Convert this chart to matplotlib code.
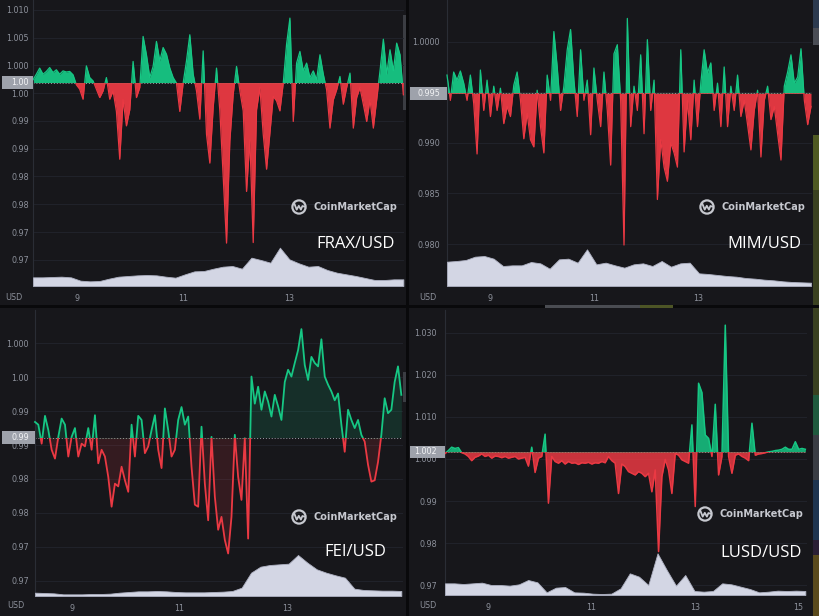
import numpy as np
import matplotlib
matplotlib.use("Agg")
import matplotlib.pyplot as plt
from matplotlib.patches import Rectangle, Circle
from matplotlib.lines import Line2D
import matplotlib.transforms as mtransforms

# ---------------- data ----------------
frax_price = [
    0.9974, 0.9984, 0.9995, 0.9984, 0.9989, 0.9996, 0.9987, 0.9992, 0.9984, 0.9990,
    0.9988, 0.9989, 0.9983, 0.9965, 0.9957, 0.9939, 0.9999, 0.9978, 0.9972, 0.9957,
    0.9942, 0.9954, 0.9978, 0.9939, 0.9954, 0.9917, 0.9831, 0.9938, 0.9891, 0.9920,
    1.0007, 0.9942, 0.9960, 1.0052, 1.0019, 0.9978, 0.9998, 1.0043, 1.0008, 1.0032,
    1.0020, 0.9995, 0.9978, 0.9968, 0.9917, 0.9968, 1.0008, 1.0055, 0.9984, 0.9954,
    0.9903, 1.0026, 0.9876, 0.9824, 0.9924, 0.9995, 0.9918, 0.9800, 0.9680, 0.9864,
    0.9948, 0.9998, 0.9954, 0.9918, 0.9773, 0.9866, 0.9681, 0.9920, 0.9960, 0.9876,
    0.9813, 0.9878, 0.9944, 0.9936, 0.9918, 0.9968, 1.0038, 1.0085, 0.9899, 1.0004,
    1.0025, 0.9990, 1.0004, 0.9978, 0.9990, 0.9974, 1.0019, 0.9984, 0.9956, 0.9887,
    0.9938, 0.9956, 0.9980, 0.9930, 0.9960, 0.9986, 0.9887, 0.9942, 0.9960, 0.9930,
    0.9899, 0.9938, 0.9887, 0.9938, 0.9990, 1.0047, 0.9984, 1.0028, 0.9990, 1.0040,
    1.0019, 0.9947]
mim_price = [
    0.9967, 0.9942, 0.9970, 0.9962, 0.9971, 0.9959, 0.9942, 0.9967, 0.9939, 0.9889,
    0.9972, 0.9932, 0.9962, 0.9926, 0.9956, 0.9932, 0.9954, 0.9919, 0.9936, 0.9926,
    0.9957, 0.9970, 0.9942, 0.9904, 0.9929, 0.9903, 0.9896, 0.9952, 0.9916, 0.9890,
    0.9967, 0.9942, 1.0010, 0.9975, 0.9932, 0.9956, 0.9992, 1.0012, 0.9962, 0.9926,
    0.9992, 0.9942, 0.9962, 0.9908, 0.9974, 0.9942, 0.9916, 0.9970, 0.9932, 0.9878,
    0.9988, 0.9997, 0.9942, 0.9799, 1.0023, 0.9916, 0.9956, 0.9932, 0.9987, 0.9909,
    1.0002, 0.9932, 0.9962, 0.9844, 0.9903, 0.9876, 0.9862, 0.9900, 0.9890, 0.9876,
    0.9992, 0.9891, 0.9942, 0.9903, 0.9962, 0.9916, 0.9959, 0.9992, 0.9969, 0.9979,
    0.9932, 0.9959, 0.9916, 0.9975, 0.9916, 0.9956, 0.9932, 0.9967, 0.9926, 0.9942,
    0.9918, 0.9893, 0.9932, 0.9952, 0.9886, 0.9942, 0.9956, 0.9923, 0.9936, 0.9909,
    0.9883, 0.9956, 0.9970, 0.9987, 0.9959, 0.9965, 0.9993, 0.9942, 0.9918, 0.9936]
fei_price = [
    0.9884, 0.9880, 0.9852, 0.9893, 0.9872, 0.9843, 0.9830, 0.9862, 0.9889, 0.9880,
    0.9833, 0.9862, 0.9875, 0.9833, 0.9852, 0.9848, 0.9875, 0.9843, 0.9894, 0.9823,
    0.9843, 0.9833, 0.9803, 0.9759, 0.9793, 0.9789, 0.9818, 0.9798, 0.9781, 0.9880,
    0.9833, 0.9893, 0.9887, 0.9838, 0.9848, 0.9872, 0.9894, 0.9843, 0.9816, 0.9904,
    0.9872, 0.9833, 0.9843, 0.9887, 0.9906, 0.9880, 0.9892, 0.9818, 0.9762, 0.9759,
    0.9877, 0.9793, 0.9739, 0.9862, 0.9774, 0.9725, 0.9744, 0.9710, 0.9690, 0.9744,
    0.9865, 0.9803, 0.9769, 0.9860, 0.9712, 0.9951, 0.9911, 0.9936, 0.9902, 0.9929,
    0.9914, 0.9892, 0.9924, 0.9907, 0.9887, 0.9943, 0.9961, 0.9951, 0.9971, 0.9990,
    1.0021, 0.9968, 0.9946, 0.9980, 0.9971, 0.9966, 1.0006, 0.9951, 0.9939, 0.9929,
    0.9916, 0.9926, 0.9880, 0.9840, 0.9902, 0.9887, 0.9875, 0.9887, 0.9865, 0.9855,
    0.9821, 0.9796, 0.9798, 0.9825, 0.9865, 0.9919, 0.9897, 0.9902, 0.9943, 0.9966,
    0.9924]
lusd_price = [
    1.0013, 1.0020, 1.0028, 1.0025, 1.0027, 1.0015, 1.0012, 1.0006, 0.9996, 1.0004,
    1.0007, 1.0012, 1.0006, 1.0009, 1.0002, 1.0007, 1.0006, 1.0003, 1.0006, 1.0002,
    1.0004, 1.0006, 1.0000, 1.0002, 1.0004, 0.9983, 1.0028, 0.9968, 1.0002, 1.0006,
    1.0059, 0.9895, 1.0006, 0.9994, 0.9990, 0.9996, 0.9988, 0.9994, 0.9990, 0.9991,
    0.9987, 0.9991, 0.9990, 0.9992, 0.9988, 0.9991, 0.9990, 0.9994, 0.9991, 1.0006,
    0.9996, 0.9990, 0.9918, 0.9988, 0.9982, 0.9970, 0.9966, 0.9962, 0.9970, 0.9966,
    0.9958, 0.9966, 0.9922, 0.9974, 0.9780, 0.9958, 0.9999, 0.9974, 0.9918, 1.0013,
    1.0009, 0.9998, 0.9994, 0.9990, 1.0081, 0.9887, 1.0180, 1.0158, 1.0057, 1.0049,
    1.0006, 1.0130, 0.9962, 1.0006, 1.0318, 1.0006, 0.9966, 1.0009, 1.0012, 1.0006,
    1.0002, 0.9996, 1.0085, 1.0009, 1.0012, 1.0013, 1.0015, 1.0017, 1.0018, 1.0020,
    1.0021, 1.0023, 1.0028, 1.0023, 1.0023, 1.0041, 1.0023, 1.0025, 1.0023]

# relative traded volume (arbitrary units)
frax_volume = [26, 26, 27, 28, 26, 16, 14, 15, 22, 28, 30, 32, 33, 32, 28, 25, 35, 44, 45, 52,
               58, 60, 52, 85, 78, 70, 115, 80, 68, 58, 60, 48, 40, 35, 30, 24, 18, 18, 20, 20]
mim_volume = [73, 75, 78, 88, 90, 82, 60, 62, 62, 72, 68, 52, 80, 82, 70, 110, 65, 70, 62, 55,
              65, 68, 60, 75, 58, 68, 70, 38, 36, 33, 30, 28, 24, 22, 19, 17, 14, 12, 11, 10]
fei_volume = [10, 9, 8, 5, 5, 5, 6, 6, 7, 10, 12, 14, 14, 15, 14, 12, 11, 11, 11, 12,
              13, 15, 25, 70, 88, 93, 95, 97, 123, 100, 80, 70, 62, 55, 22, 18, 17, 16, 16, 15]
lusd_volume = [35, 35, 33, 35, 37, 30, 30, 28, 32, 45, 38, 8, 22, 24, 8, 7, 4, 3, 4, 20,
               65, 55, 30, 125, 75, 28, 60, 12, 10, 12, 35, 32, 25, 18, 8, 10, 13, 12, 13, 12]

# time span of each series (day of month)
frax_span = (8.17, 15.151)
mim_span = (8.18, 15.167)
fei_span = (8.32, 15.121)
lusd_span = (8.17, 15.138)

frax_base, mim_base, fei_base, lusd_base = 0.9969, 0.9949, 0.9861, 1.0017
frax_base_label, mim_base_label, fei_base_label, lusd_base_label = '1.00', '0.995', '0.99', '1.002'

frax_yticks = [1.010, 1.005, 1.000, 0.995, 0.990, 0.985, 0.980, 0.975, 0.970, 0.965]
frax_ylabels = ['1.010', '1.005', '1.000', '1.00', '0.99', '0.99', '0.98', '0.98', '0.97', '0.97']
mim_yticks = [1.000, 0.995, 0.990, 0.985, 0.980]
mim_ylabels = ['1.0000', '0.995', '0.990', '0.985', '0.980']
fei_yticks = [1.000, 0.995, 0.990, 0.985, 0.980, 0.975, 0.970, 0.965]
fei_ylabels = ['1.000', '1.00', '0.99', '0.99', '0.98', '0.98', '0.97', '0.97']
lusd_yticks = [1.030, 1.020, 1.010, 1.000, 0.990, 0.980, 0.970]
lusd_ylabels = ['1.030', '1.020', '1.010', '1.000', '0.99', '0.98', '0.97']

xticks_3 = [9, 11, 13]
xticks_4 = [9, 11, 13, 15]

# ---------------- style ----------------
W, H = 820, 616
BG = '#17171b'
SEP = '#09090b'
GREEN = '#16c784'
RED = '#ea3943'
TICK = '#8d919b'
GRID = '#22252d'
VOL = '#d3d6e4'
WM = '#c6c8cf'

fig = plt.figure(figsize=(W / 100, H / 100), dpi=100)
fig.patch.set_facecolor(SEP)


def fig_rect(x0, y0, x1, y1, color, z=-10):
    fig.add_artist(Rectangle((x0 / W, 1 - y1 / H), (x1 - x0) / W, (y1 - y0) / H,
                             transform=fig.transFigure, color=color, zorder=z, lw=0))


# panel backgrounds
fig_rect(0, 0, 406, 305, BG)
fig_rect(409, 0, 820, 305, BG)
fig_rect(0, 308, 406, 616, BG)
fig_rect(409, 308, 820, 616, BG)

# screenshot edge strips (neighbouring window chrome)
for (x0, y0, x1, y1, c) in [
        (403, 15, 406, 110, '#3b3d43'), (403, 372, 406, 402, '#3b3d43'),
        (813, 0, 820, 28, '#2c3a4f'), (813, 28, 820, 45, '#4a4d55'),
        (813, 135, 820, 190, '#4f5a22'), (813, 190, 820, 305, '#3a4120'),
        (813, 308, 820, 395, '#394020'), (813, 395, 820, 435, '#1f5a3e'),
        (813, 435, 820, 480, '#3a3d44'), (813, 480, 820, 540, '#1f3550'),
        (813, 540, 820, 555, '#2a1f35'), (813, 555, 820, 616, '#5a4a1c'),
        (545, 305, 640, 308, '#4a4c52'), (640, 305, 673, 308, '#4d5526')]:
    fig_rect(x0, y0, x1, y1, c, z=-9)


def make_panel(price, volume, span, base, base_label, yticks, ylabels, xticks,
               axes_px, panel_left, ylim, xlim, vmax, ypad_px, mode, usd_xy):
    l, t, r, b = axes_px
    rect = [l / W, 1 - b / H, (r - l) / W, (b - t) / H]

    ax = fig.add_axes(rect)
    ax.patch.set_visible(False)
    ax.set_xlim(*xlim)
    ax.set_ylim(*ylim)
    pt = np.linspace(span[0], span[1], len(price))

    x0, x1 = xlim[0] - 1, xlim[1] + 1
    up = Rectangle((x0, base), x1 - x0, 1.0, transform=ax.transData)
    dn = Rectangle((x0, base - 1.0), x1 - x0, 1.0, transform=ax.transData)
    if mode == 'solid':
        falpha, lw = 0.95, 0.9
    elif mode == 'line':
        falpha, lw = 0.14, 1.3
    else:
        falpha, lw = 0.85, 1.1
    for clip, col in ((up, GREEN), (dn, RED)):
        f = ax.fill_between(pt, price, base, color=col, alpha=falpha, lw=0, zorder=2)
        f.set_clip_path(clip)
        ln, = ax.plot(pt, price, color=col, lw=lw, zorder=3)
        ln.set_clip_path(clip)
    ax.axhline(base, color='#9da1ab', lw=0.7, ls=(0, (1, 2)), zorder=1)

    ax.set_yticks(yticks)
    ax.set_yticklabels(ylabels)
    ax.set_xticks(xticks)
    ax.set_xticklabels([str(v) for v in xticks])
    ax.tick_params(axis='y', length=0, pad=ypad_px * 0.72, labelsize=5.8, labelcolor=TICK)
    ax.tick_params(axis='x', length=0, pad=6, labelsize=5.8, labelcolor=TICK)
    ax.grid(axis='y', color=GRID, lw=0.6)
    ax.set_axisbelow(True)
    for s in ('top', 'right', 'bottom'):
        ax.spines[s].set_visible(False)
    ax.spines['left'].set_color('#2a2d35')
    ax.spines['left'].set_linewidth(0.8)

    # base price tag
    trans = mtransforms.blended_transform_factory(ax.transAxes, ax.transData)
    hd = 12.5 * (ylim[1] - ylim[0]) / (b - t)
    xf0 = (panel_left - l) / (r - l)
    ax.add_patch(Rectangle((xf0, base - hd / 2), -xf0, hd, transform=trans,
                           color='#9ea2ab', clip_on=False, zorder=6, lw=0))
    ax.text(-ypad_px / (r - l), base, base_label, transform=trans, ha='right', va='center',
            fontsize=5.8, color='#f2f3f5', zorder=7, clip_on=False)

    # volume layer (drawn over the grid)
    axv = fig.add_axes(rect)
    axv.set_axis_off()
    axv.patch.set_visible(False)
    vt = np.linspace(span[0], span[1], len(volume))
    axv.fill_between(vt, volume, 0, color=VOL, lw=0.6, edgecolor='#aeb1c2')
    axv.set_xlim(*xlim)
    axv.set_ylim(0, vmax)

    fig.text(usd_xy[0] / W, 1 - usd_xy[1] / H, 'USD', ha='center', va='center',
             fontsize=5.8, color=TICK)
    return ax


def watermark(cx, cy, text_left, label, label_right, label_cy):
    fig.add_artist(Circle((cx / 100, (H - cy) / 100), 6.6 / 100, transform=fig.dpi_scale_trans,
                          fill=False, ec=WM, lw=1.6, zorder=8))
    mx = np.array([-4.6, -2.3, -0.2, 1.9, 3.4, 5.2])
    my = np.array([-3.2, 2.6, -1.2, 2.6, -1.0, -0.4])
    fig.add_artist(Line2D((cx + mx) / 100, (H - cy - my) / 100, transform=fig.dpi_scale_trans,
                          color=WM, lw=1.3, zorder=8, solid_joinstyle='round'))
    fig.text(text_left / W, 1 - cy / H, 'CoinMarketCap', ha='left', va='center',
             fontsize=7.0, fontweight='bold', color=WM, zorder=8)
    fig.text(label_right / W, 1 - label_cy / H, label, ha='right', va='center',
             fontsize=12, color='white', family=['Open Sans', 'DejaVu Sans'], zorder=8)


make_panel(frax_price, frax_volume, frax_span, frax_base, frax_base_label, frax_yticks, frax_ylabels,
           xticks_3, (33, 0, 404, 286), 2, (0.96028, 1.01176), (8.17, 15.163), 858, 4, 'solid', (14, 297))
make_panel(mim_price, mim_volume, mim_span, mim_base, mim_base_label, mim_yticks, mim_ylabels,
           xticks_3, (447, 0, 812, 286), 410, (0.97585, 1.00412), (8.18, 15.186), 858, 7, 'solid', (428, 297))
make_panel(fei_price, fei_volume, fei_span, fei_base, fei_base_label, fei_yticks, fei_ylabels,
           xticks_3, (35, 310, 403, 596), 2, (0.96273, 1.004917), (8.32, 15.152), 858, 6, 'line', (16, 606))
make_panel(lusd_price, lusd_volume, lusd_span, lusd_base, lusd_base_label, lusd_yticks, lusd_ylabels,
           xticks_4, (445, 310, 807, 595), 410, (0.96768, 1.0354), (8.17, 15.17), 855, 8, 'spiky', (428, 605))

watermark(299, 207, 314, 'FRAX/USD', 395, 244)
watermark(707, 207, 722, 'MIM/USD', 801, 244)
watermark(299, 517, 314, 'FEI/USD', 386, 552)
watermark(705, 514, 720, 'LUSD/USD', 802, 553)

fig.savefig('out.png', dpi=100, facecolor=fig.get_facecolor())
